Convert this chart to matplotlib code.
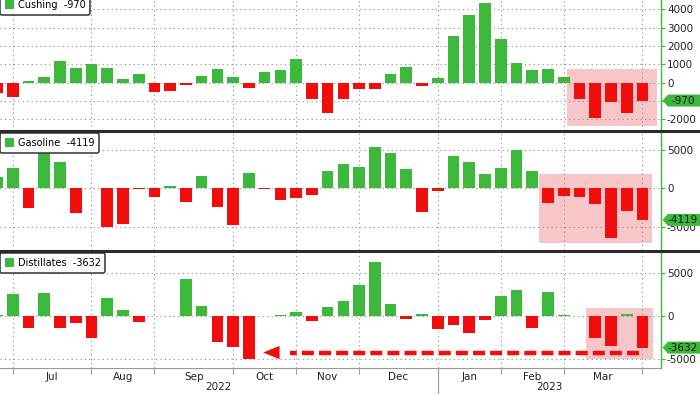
import numpy as np
import pandas as pd
import matplotlib
matplotlib.use('Agg')
import matplotlib.pyplot as plt
from matplotlib.patches import Patch, Polygon, Rectangle
from matplotlib.lines import Line2D

# weekly EIA changes (thousand barrels), week ending Fridays
weeks = pd.date_range('2022-06-17', '2023-03-31', freq='W-FRI')

cushing = [-545, -764, 90, 330, 1185, 785, 1000, 785, 200, 455, -525, -455, -125, 365,
           730, 295, -270, 600, 690, 1290, -905, -1635, -870, -360, -345, 455, 870, -180,
           240, 2565, 3695, 4330, 2370, 1090, 690, 730, 330, -870, -1910, -1035, -1635, -970]
gasoline = [1435, 2610, -2520, 5830, 3480, -3260, 90, -5090, -4650, -50, -1170, 300, -1740,
            1610, -2480, -4780, 2040, -130, -1520, -1300, -910, 2260, 3130, 2830, 5435, 4565,
            2520, -3130, -350, 4220, 3480, 1830, 2610, 5000, 2300, -1870, -960, -1090, -2040,
            -6520, -2960, -4119]
distillates = [150, 2620, -1290, 2700, -1370, -820, -2540, 2150, 780, -700, 60, 50, 4300,
               1250, -2970, -3550, -5000, 40, 120, 470, -510, 1130, 1760, 3710, 6370, 1410,
               -270, 310, -1450, -1050, -1950, -470, 2380, 3050, -1330, 2810, 200, 30, -2540,
               -3440, 280, -3632]

GREEN = '#3cb83a'
RED = '#f20d0d'
PINK = '#f8c6c8'
GRID = '#8c8c8c'
W, H = 700, 394

x = np.arange(len(weeks))
# last data point of every month -> vertical grid / tick positions
bounds = [i for i in x if i == x[-1] or weeks[i + 1].month != weeks[i].month]
xlim = (0.19, 42.16)

fig = plt.figure(figsize=(W / 100, H / 100), dpi=100)


def box(top, bottom):
    return [0, 1 - bottom / H, 660.7 / W, (bottom - top) / H]


panels = [
    dict(name='Cushing', vals=cushing, pos=box(0, 130.5), ylim=(-2600, 4510),
         ticks=[-2000, -1000, 0, 1000, 2000, 3000, 4000], shade=(36.2, 41.9, -2360, 750),
         leg_off=5),
    dict(name='Gasoline', vals=gasoline, pos=box(132, 250), ylim=(-8050, 7350),
         ticks=[-5000, 0, 5000], shade=(34.4, 41.6, -7140, 1870), leg_off=-1),
    dict(name='Distillates', vals=distillates, pos=box(251.5, 368), ylim=(-6000, 7550),
         ticks=[-5000, 0, 5000], shade=(37.4, 41.7, -4940, 990), leg_off=-1.5),
]

axes = []
for p in panels:
    ax = fig.add_axes(p['pos'])
    axes.append(ax)
    vals = np.array(p['vals'])
    ax.set_xlim(*xlim)
    ax.set_ylim(*p['ylim'])

    x0, x1, y0, y1 = p['shade']
    ax.add_patch(Rectangle((x0, y0), x1 - x0, y1 - y0, color=PINK, zorder=1, lw=0))

    for t in p['ticks']:
        ax.axhline(t, color=GRID, lw=0.8, ls=(0, (1, 3)), zorder=1.5)
    for b in bounds:
        ax.axvline(b, color=GRID, lw=0.8, ls=(0, (1, 3)), zorder=1.5)

    colors = np.where(vals >= 0, GREEN, RED)
    ax.bar(x, vals, width=0.74, color=colors, zorder=2)

    for s in ['top', 'left', 'bottom']:
        ax.spines[s].set_visible(False)
    ax.spines['right'].set_color(GREEN)
    ax.spines['right'].set_linewidth(1.0)
    ax.yaxis.tick_right()
    ax.set_yticks(p['ticks'])
    # the label right under the value tag is covered in the original
    last = p['vals'][-1]
    ax.set_yticklabels(['' if abs(t - last) < 400 else str(t) for t in p['ticks']])
    ax.tick_params(axis='y', color=GREEN, labelcolor='#222222', length=3, width=0.8,
                   labelsize=7.5, pad=1.5)
    ax.set_xticks([])

    leg = ax.legend(handles=[Patch(facecolor=GREEN)],
                    labels=[f"{p['name']}  {last}"],
                    loc='upper left', bbox_to_anchor=(0.0, 1 + p['leg_off'] / (p['pos'][3] * H)),
                    fontsize=7, frameon=True, fancybox=True, framealpha=1,
                    edgecolor='#333333', handlelength=0.9, handleheight=0.9,
                    handletextpad=0.4, borderpad=0.5, borderaxespad=0)
    leg.get_frame().set_linewidth(1.1)

    # value tag on the right axis
    yp = ax.transData.transform((0, last))[1]
    pts = [(662.5, yp), (668, yp + 6), (700, yp + 6), (700, yp - 6), (668, yp - 6)]
    fig.add_artist(Polygon([(px / W, py / H) for px, py in pts], closed=True,
                           transform=fig.transFigure, facecolor=GREEN, edgecolor='none',
                           zorder=5))
    fig.text(683 / W, yp / H, str(last), ha='center', va='center', fontsize=7.5,
             color='#1a1a1a', zorder=6)

# x axis on bottom panel
ax3 = axes[-1]
ax3.spines['bottom'].set_visible(True)
ax3.spines['bottom'].set_color('#999999')
ax3.spines['bottom'].set_linewidth(0.8)
ax3.set_xticks(bounds)
ax3.set_xticklabels([])
ax3.tick_params(axis='x', color='#999999', length=4, width=0.8)

for a, b in zip(bounds[:-1], bounds[1:]):
    ax3.annotate(weeks[b].strftime('%b'), ((a + b) / 2, 0), xycoords=('data', 'axes fraction'),
                 xytext=(0, -9), textcoords='offset pixels', ha='center', va='center',
                 fontsize=7.5, color='#222222')

split = bounds[6]
for label, (a, b) in [('2022', (xlim[0], split)), ('2023', (split, xlim[1]))]:
    ax3.annotate(label, ((a + b) / 2, 0), xycoords=('data', 'axes fraction'),
                 xytext=(0, -19.5), textcoords='offset pixels', ha='center', va='center',
                 fontsize=7.5, color='#222222')
ax3.plot([split, split], [0, -0.3], transform=ax3.get_xaxis_transform(), clip_on=False,
         color='#999999', lw=0.8)

# dashed arrow back to the October low
ax3.plot([40.8, 18.6], [-4200, -4200], color=RED, lw=3.2, dashes=(2.7, 1.15), zorder=3)
ax3.add_patch(Polygon([(16.9, -4200), (17.95, -3420), (17.95, -4980)], closed=True,
                      facecolor=RED, edgecolor='none', zorder=3))

# panel separators
for yp in [131.2, 250.7]:
    fig.add_artist(Line2D([0, 1], [1 - yp / H] * 2, transform=fig.transFigure,
                          color='#2b2b2b', lw=2.2, zorder=4))

fig.savefig('out.png', dpi=100)
